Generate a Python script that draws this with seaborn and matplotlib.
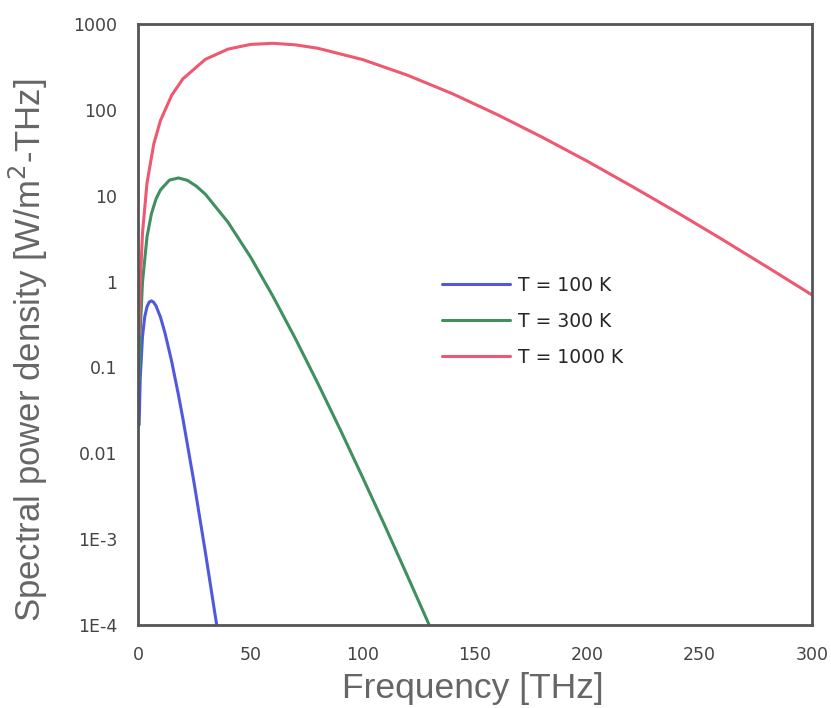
import matplotlib.pyplot as plt
import numpy as np
import pandas as pd
import seaborn as sns

# Frequency [THz] and spectral power density [W/m^2-THz]
freq_100 = [0.5, 1, 2, 3, 4, 5, 6, 7, 8, 10, 12, 15, 18, 20, 25, 30, 35, 36]
sp_100 = [0.0214, 0.0752, 0.230, 0.388, 0.509, 0.578, 0.596, 0.572, 0.522, 0.385,
          0.253, 0.117, 0.0479, 0.0252, 0.00446, 7.0e-4, 1.01e-4, 6.8e-5]

freq_300 = [0.5, 1, 2, 4, 6, 8, 10, 14, 18, 22, 26, 30, 40, 50, 60, 70, 80, 90,
            100, 110, 120, 130, 132]
sp_300 = [0.0695, 0.267, 0.983, 3.31, 6.21, 9.14, 11.7, 15.2, 16.1, 15.1, 12.9,
          10.4, 4.94, 1.95, 0.679, 0.218, 0.0656, 0.0189, 0.00523, 1.41e-3,
          3.69e-4, 9.5e-5, 7.2e-5]

freq_1000 = [0.5, 1, 2, 4, 7, 10, 15, 20, 30, 40, 50, 60, 70, 80, 100, 120, 140,
             160, 180, 200, 220, 240, 260, 280, 300]
sp_1000 = [0.238, 0.942, 3.68, 14.0, 39.8, 75.2, 148, 230, 388, 509, 578, 596,
           572, 522, 385, 253, 154, 87.8, 47.9, 25.2, 12.8, 6.37, 3.10, 1.48, 0.699]

series_labels = ['T = 100 K', 'T = 300 K', 'T = 1000 K']
series_colors = ['#5058e0', '#3f8f5f', '#ee5870']

x_ticks = [0, 50, 100, 150, 200, 250, 300]
y_ticks = [1e3, 1e2, 1e1, 1, 0.1, 0.01, 1e-3, 1e-4]
y_tick_labels = ['1000', '100', '10', '1', '0.1', '0.01', '1E-3', '1E-4']

df = pd.concat([
    pd.DataFrame({'freq': freq_100, 'sp': sp_100, 'series': series_labels[0]}),
    pd.DataFrame({'freq': freq_300, 'sp': sp_300, 'series': series_labels[1]}),
    pd.DataFrame({'freq': freq_1000, 'sp': sp_1000, 'series': series_labels[2]}),
])

sns.set_style('white')
plt.rcParams['font.family'] = ['Liberation Sans', 'DejaVu Sans']

fig = plt.figure(figsize=(8.31, 7.08), dpi=100)
# axes frame: x 138..812 px, y 24..625 px
ax = fig.add_axes([138 / 831, 1 - 625 / 708, 674 / 831, 601 / 708])

sns.lineplot(data=df, x='freq', y='sp', hue='series', hue_order=series_labels,
             palette=series_colors, linewidth=2.2, sort=False, estimator=None, ax=ax)

ax.set_yscale('log')
ax.set_xlim(0, 300)
ax.set_ylim(1e-4, 1e3)
ax.set_xticks(x_ticks)
ax.set_xticklabels([str(t) for t in x_ticks], family='DejaVu Sans')
ax.set_yticks(y_ticks)
ax.set_yticklabels(y_tick_labels, family='DejaVu Sans')
ax.minorticks_off()
ax.tick_params(axis='both', length=0, labelsize=12.5, labelcolor='#444444')
ax.tick_params(axis='x', pad=15)
ax.tick_params(axis='y', pad=15)

for s in ax.spines.values():
    s.set_color('#555555')
    s.set_linewidth(2)

ax.set_xlabel('Frequency [THz]', fontsize=25.5, color='#666666')
ax.xaxis.set_label_coords(0.497, -0.078)
ax.set_ylabel('Spectral power density [W/m$^2$-THz]', fontsize=25, color='#666666')
ax.yaxis.set_label_coords(-0.13, 0.458)

ax.legend(frameon=False, loc='upper left', bbox_to_anchor=(0.44, 0.594),
          bbox_transform=ax.transAxes, borderaxespad=0,
          prop={'family': 'DejaVu Sans', 'size': 13.5},
          handlelength=3.6, labelspacing=0.92, handletextpad=0.43)

fig.savefig('out.png', dpi=100)
